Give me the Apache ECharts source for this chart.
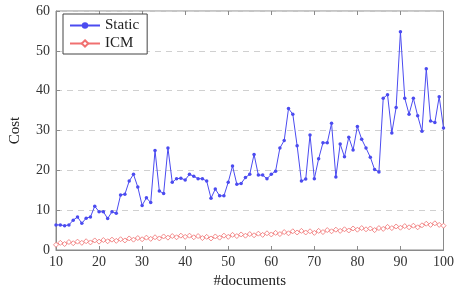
<!DOCTYPE html>
<html>
<head>
<meta charset="utf-8">
<script src="https://cdn.jsdelivr.net/npm/echarts@6/dist/echarts.min.js"></script>
<style>
html, body { margin: 0; padding: 0; background: #fff; }
#chart { width: 457px; height: 294px; }
</style>
</head>
<body>
<div id="chart"></div>
<script>
// x 轴: 文档数
var docs = [10, 11, 12, 13, 14, 15, 16, 17, 18, 19,
    20, 21, 22, 23, 24, 25, 26, 27, 28, 29,
    30, 31, 32, 33, 34, 35, 36, 37, 38, 39,
    40, 41, 42, 43, 44, 45, 46, 47, 48, 49,
    50, 51, 52, 53, 54, 55, 56, 57, 58, 59,
    60, 61, 62, 63, 64, 65, 66, 67, 68, 69,
    70, 71, 72, 73, 74, 75, 76, 77, 78, 79,
    80, 81, 82, 83, 84, 85, 86, 87, 88, 89,
    90, 91, 92, 93, 94, 95, 96, 97, 98, 99, 100];

var staticCost = [6.3, 6.3, 6.1, 6.3, 7.5, 8.3, 6.7, 8.0, 8.3, 11.0,
    9.6, 9.6, 7.9, 9.6, 9.2, 13.8, 14.0, 17.3, 19.0, 15.8,
    11.2, 13.1, 11.9, 25.0, 14.8, 14.2, 25.6, 17.0, 17.9, 18.0,
    17.6, 19.0, 18.5, 17.9, 17.9, 17.3, 13.0, 15.3, 13.6, 13.6,
    17.0, 21.1, 16.5, 16.7, 18.2, 19.0, 24.0, 18.8, 18.8, 17.9,
    19.0, 19.8, 25.6, 27.5, 35.5, 34.1, 26.2, 17.3, 17.8, 28.9,
    17.9, 22.9, 26.9, 26.9, 31.8, 18.3, 26.6, 23.4, 28.3, 25.1,
    31.0, 27.8, 25.6, 23.3, 20.2, 19.6, 38.1, 39.0, 29.4, 35.8,
    54.8, 38.1, 34.1, 38.1, 33.7, 29.8, 45.5, 32.4, 32.0, 38.5, 30.6];

var icmCost = [1.3, 1.8, 1.5, 2.0, 1.7, 2.1, 1.8, 2.2, 1.9, 2.4,
    2.1, 2.5, 2.2, 2.6, 2.3, 2.7, 2.4, 2.9, 2.6, 3.0,
    2.7, 3.1, 2.8, 3.2, 2.9, 3.4, 3.1, 3.5, 3.2, 3.6,
    3.3, 3.6, 3.2, 3.5, 3.0, 3.3, 2.9, 3.4, 3.1, 3.6,
    3.3, 3.8, 3.5, 3.9, 3.6, 4.0, 3.7, 4.1, 3.8, 4.2,
    3.9, 4.3, 4.0, 4.5, 4.2, 4.7, 4.4, 4.8, 4.4, 4.7,
    4.3, 4.8, 4.5, 5.0, 4.7, 5.1, 4.8, 5.2, 4.9, 5.4,
    5.1, 5.5, 5.2, 5.4, 5.0, 5.5, 5.3, 5.8, 5.5, 5.9,
    5.6, 6.0, 5.7, 6.1, 5.7, 6.2, 6.6, 6.3, 6.7, 6.3, 6.1];

var yTicks = [0, 10, 20, 30, 40, 50, 60];

var serif = "'Liberation Serif', 'DejaVu Serif', serif";
var blue = '#4b4bf0';
var red = '#f07070';

function pairs(vals) {
    return docs.map(function (d, i) { return [d, vals[i]]; });
}

var myChart = echarts.init(document.getElementById('chart'));

var option = {
    animation: false,
    grid: {
        show: true,
        left: 51,
        right: 13,
        top: 11,
        bottom: 42,
        borderColor: '#8a8a8a',
        borderWidth: 1
    },
    legend: {
        orient: 'vertical',
        left: 63,
        top: 14,
        data: ['Static', 'ICM'],
        backgroundColor: '#fff',
        borderColor: '#444',
        borderWidth: 1,
        padding: [4, 8, 3, 6],
        itemGap: 3,
        itemWidth: 30,
        itemHeight: 8,
        textStyle: { fontFamily: serif, fontSize: 15, color: '#222' }
    },
    xAxis: [{
        type: 'value',
        min: 10,
        max: 100,
        interval: 10,
        name: '#documents',
        nameLocation: 'middle',
        nameGap: 24,
        nameTextStyle: { fontFamily: serif, fontSize: 15, color: '#222' },
        axisLine: { lineStyle: { color: '#8a8a8a' } },
        axisTick: { inside: true, length: 4, lineStyle: { color: '#8a8a8a' } },
        axisLabel: { fontFamily: serif, fontSize: 14, color: '#333', margin: 5 },
        splitLine: { show: false }
    }, {
        type: 'value',
        position: 'top',
        min: 10,
        max: 100,
        interval: 10,
        axisLine: { show: false },
        axisTick: { inside: true, length: 4, lineStyle: { color: '#8a8a8a' } },
        axisLabel: { show: false },
        splitLine: { show: false }
    }],
    yAxis: {
        type: 'value',
        min: yTicks[0],
        max: yTicks[yTicks.length - 1],
        interval: 10,
        name: 'Cost',
        nameLocation: 'middle',
        nameGap: 33,
        nameTextStyle: { fontFamily: serif, fontSize: 15, color: '#222' },
        axisLine: { show: true, lineStyle: { color: '#8a8a8a' } },
        axisTick: { show: true, inside: true, length: 4, lineStyle: { color: '#8a8a8a' } },
        axisLabel: { fontFamily: serif, fontSize: 14, color: '#333', margin: 6 },
        splitLine: { show: true, lineStyle: { color: '#d0d0d0', type: [6, 5] } }
    },
    series: [{
        name: 'Static',
        type: 'line',
        data: pairs(staticCost),
        symbol: 'circle',
        symbolSize: 3.5,
        showSymbol: true,
        lineStyle: { color: blue, width: 1 },
        itemStyle: { color: blue },
        z: 3
    }, {
        name: 'ICM',
        type: 'line',
        data: pairs(icmCost),
        symbol: 'diamond',
        symbolSize: 5,
        showSymbol: true,
        lineStyle: { color: red, width: 1 },
        itemStyle: { color: '#fff', borderColor: red, borderWidth: 0.8 },
        z: 2
    }]
};

myChart.setOption(option, true);
</script>
</body>
</html>
